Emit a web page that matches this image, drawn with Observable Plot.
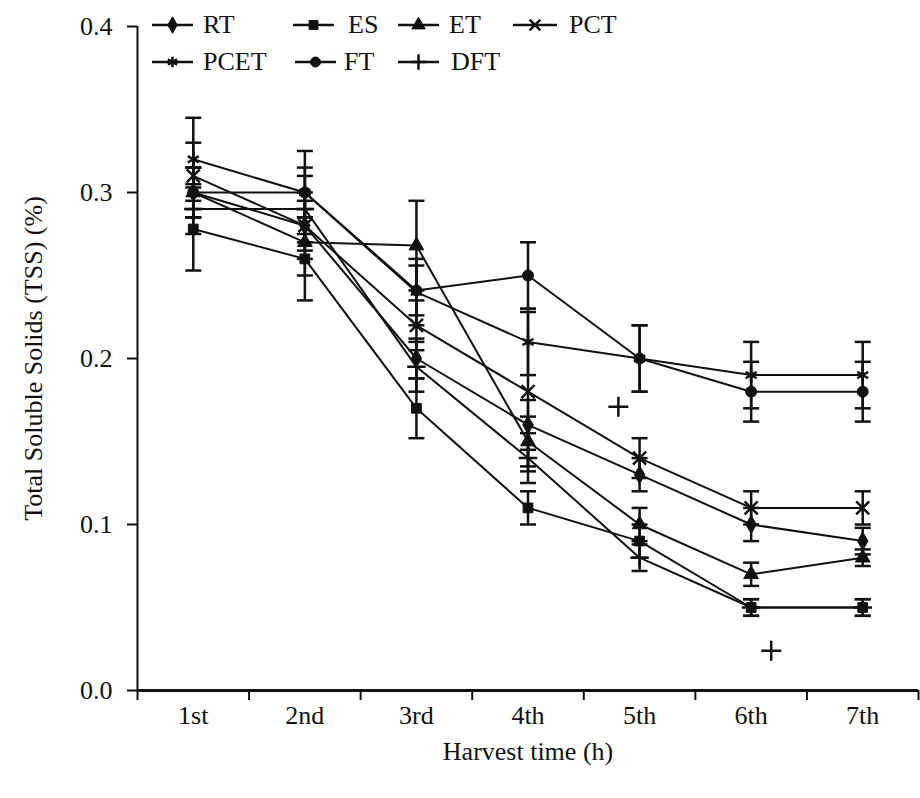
<!DOCTYPE html>
<html><head><meta charset="utf-8">
<script src="https://cdn.jsdelivr.net/npm/d3@7"></script>
<script src="https://cdn.jsdelivr.net/npm/@observablehq/plot@0.6"></script>
<style>
body{margin:0;background:#fff;}
#wrap{position:relative;width:920px;height:798px;overflow:hidden;}
.lg{position:absolute;font-family:"Liberation Serif","Times New Roman",serif;font-size:26px;color:#111;line-height:1;white-space:nowrap;}
</style></head><body><div id="wrap"></div>
<script>
// ---- data ----
const harvest = ["1st","2nd","3rd","4th","5th","6th","7th"];
const treatments = ["RT","ES","ET","PCT","PCET","FT","DFT"];
const RT   = [0.300, 0.280, 0.200, 0.160, 0.130, 0.100, 0.090];
const ES   = [0.278, 0.260, 0.170, 0.110, 0.090, 0.050, 0.050];
const ET   = [0.300, 0.270, 0.268, 0.150, 0.100, 0.070, 0.080];
const PCT  = [0.310, 0.280, 0.220, 0.180, 0.140, 0.110, 0.110];
const PCET = [0.320, 0.300, 0.240, 0.210, 0.200, 0.190, 0.190];
const FT   = [0.300, 0.300, 0.241, 0.250, 0.200, 0.180, 0.180];
const DFT  = [0.290, 0.290, 0.195, 0.140, 0.080, 0.050, 0.050];
const RT_sd   = [0.015, 0.015, 0.012, 0.015, 0.010, 0.010, 0.008];
const ES_sd   = [0.025, 0.025, 0.018, 0.010, 0.010, 0.005, 0.005];
const ET_sd   = [0.015, 0.020, 0.027, 0.015, 0.010, 0.007, 0.005];
const PCT_sd  = [0.020, 0.020, 0.015, 0.048, 0.012, 0.010, 0.010];
const PCET_sd = [0.025, 0.025, 0.020, 0.020, 0.020, 0.020, 0.020];
const FT_sd   = [0.015, 0.015, 0.015, 0.020, 0.020, 0.018, 0.018];
const DFT_sd  = [0.015, 0.020, 0.015, 0.015, 0.008, 0.005, 0.005];
// two stray "+" markers printed in the figure (harvest position, value)
const strayX = [4.81, 6.18];
const strayY = [0.171, 0.024];
const yTicks = [0, 0.1, 0.2, 0.3, 0.4];

const values = [RT, ES, ET, PCT, PCET, FT, DFT];
const sds = [RT_sd, ES_sd, ET_sd, PCT_sd, PCET_sd, FT_sd, DFT_sd];
const data = treatments.flatMap((t, i) => values[i].map((v, j) => ({t, x: j + 1, y: v, sd: sds[i][j]})));
const stray = strayX.map((x, i) => ({x, y: strayY[i]}));

const symbolRange = ["diamond", "square", "triangle", "times", "asterisk", "circle", "plus"];
const filledSet = new Set(["RT", "ES", "ET", "FT"]);
const capSymbol = {draw(ctx, size) { const w = Math.sqrt(size / Math.PI); ctx.moveTo(-w, 0); ctx.lineTo(w, 0); }};

const font = '"Liberation Serif","Times New Roman",serif';
const ink = "#111";

const chart = Plot.plot({
  width: 920, height: 798,
  marginLeft: 137, marginRight: 2, marginTop: 26, marginBottom: 108,
  style: {fontFamily: font, fontSize: "26px", color: ink, background: "#fff", overflow: "visible"},
  x: {domain: [0.5, 7.5]},
  y: {domain: [0, 0.4]},
  symbol: {domain: treatments, range: symbolRange},
  marks: [
    Plot.axisY({ticks: yTicks, tickFormat: d => d.toFixed(1), tickSize: 10, tickPadding: 15, strokeWidth: 2,
      fontSize: 26, label: "Total Soluble Solids (TSS) (%)", labelAnchor: "center", labelArrow: "none", labelOffset: 114}),
    Plot.axisX({ticks: d3.range(0.5, 8, 1), tickFormat: () => "", tickSize: 10, strokeWidth: 2, label: null}),
    Plot.axisX({ticks: d3.range(1, 8), tickFormat: i => harvest[i - 1], tickSize: 0, tickPadding: 15,
      fontSize: 26, label: "Harvest time (h)", labelAnchor: "center", labelArrow: "none", labelOffset: 69}),
    Plot.ruleY([0], {stroke: ink, strokeWidth: 3}),
    Plot.ruleX([0.5], {stroke: ink, strokeWidth: 2}),
    Plot.ruleX(data, {x: "x", y1: d => d.y - d.sd, y2: d => d.y + d.sd, stroke: ink, strokeWidth: 2.5}),
    Plot.dot(data, {x: "x", y: d => d.y + d.sd, symbol: capSymbol, r: 8, stroke: ink, strokeWidth: 2.5, fill: "none"}),
    Plot.dot(data, {x: "x", y: d => d.y - d.sd, symbol: capSymbol, r: 8, stroke: ink, strokeWidth: 2.5, fill: "none"}),
    Plot.line(data, {x: "x", y: "y", z: "t", stroke: ink, strokeWidth: 2}),
    Plot.dot(data.filter(d => filledSet.has(d.t)), {x: "x", y: "y", symbol: "t", r: 5.5, fill: ink, stroke: ink, strokeWidth: 1}),
    Plot.dot(data.filter(d => !filledSet.has(d.t)), {x: "x", y: "y", symbol: "t", r: 6, fill: "none", stroke: ink, strokeWidth: 2.5}),
    Plot.dot(stray, {x: "x", y: "y", symbol: "plus", r: 6.5, stroke: ink, strokeWidth: 2.5})
  ]
});
const wrap = document.getElementById("wrap");
wrap.appendChild(chart);

// ---- legend (HTML overlay) ----
const legendLayout = [
  {t: "RT",   x: 152, row: 0, lw: 41, gap: 10},
  {t: "ES",   x: 293, row: 0, lw: 41, gap: 14},
  {t: "ET",   x: 398, row: 0, lw: 41, gap: 10},
  {t: "PCT",  x: 513, row: 0, lw: 44, gap: 12},
  {t: "PCET", x: 152, row: 1, lw: 41, gap: 10},
  {t: "FT",   x: 295, row: 1, lw: 41, gap: 8},
  {t: "DFT",  x: 398, row: 1, lw: 41, gap: 12}
];
const rowY = [25, 62];
const d3sym = {diamond: d3.symbolDiamond, square: d3.symbolSquare, triangle: d3.symbolTriangle, times: d3.symbolTimes,
  asterisk: d3.symbolAsterisk, circle: d3.symbolCircle, plus: d3.symbolPlus};
for (const item of legendLayout) {
  const i = treatments.indexOf(item.t);
  const symName = symbolRange[i];
  const div = document.createElement("div");
  div.className = "lg";
  div.style.left = item.x + "px";
  div.style.top = (rowY[item.row] - 14) + "px";
  div.style.display = "flex";
  div.style.alignItems = "center";
  const svg = d3.create("svg").attr("width", item.lw).attr("height", 28);
  svg.append("line").attr("x1", 0).attr("x2", item.lw).attr("y1", 14).attr("y2", 14).attr("stroke", ink).attr("stroke-width", 2.5);
  const filled = filledSet.has(item.t);
  svg.append("path").attr("transform", `translate(${item.lw / 2},14)`)
    .attr("d", d3.symbol(d3sym[symName], Math.PI * 25)())
    .attr("fill", filled ? ink : "none").attr("stroke", ink).attr("stroke-width", filled ? 1 : 2.5);
  div.appendChild(svg.node());
  const span = document.createElement("span");
  span.textContent = item.t;
  span.style.marginLeft = item.gap + "px";
  div.appendChild(span);
  wrap.appendChild(div);
}
</script>
</body></html>
